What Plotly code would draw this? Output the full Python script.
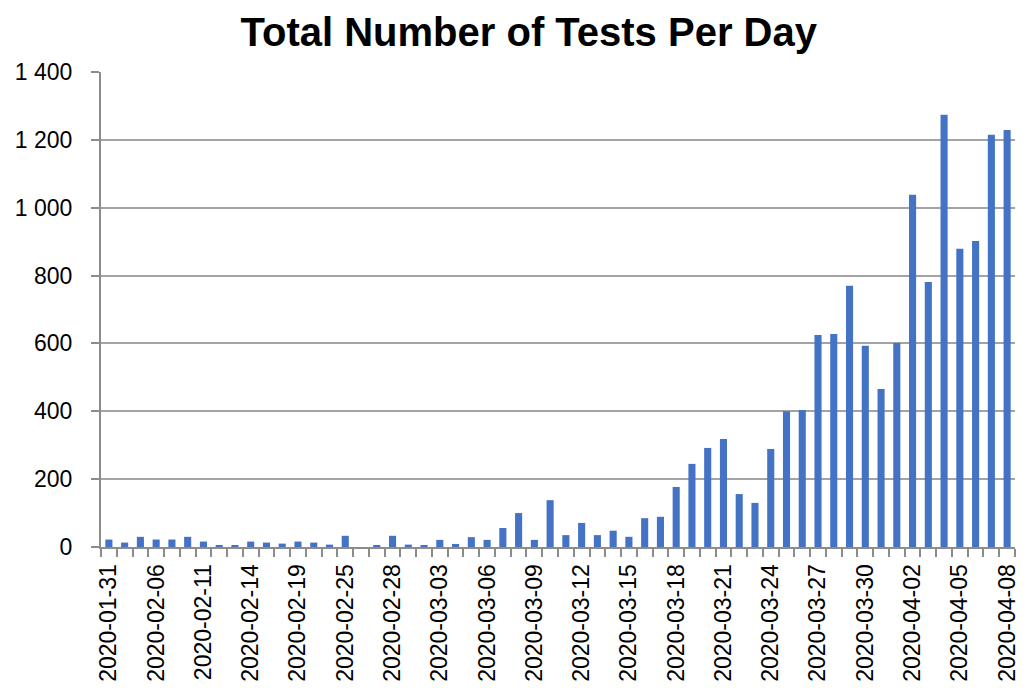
import plotly.graph_objects as go

# Dates shown on the category axis (early dates are not daily)
dates = [
    "2020-01-31", "2020-02-02", "2020-02-04", "2020-02-06", "2020-02-08", "2020-02-10",
    "2020-02-11", "2020-02-12", "2020-02-13", "2020-02-14", "2020-02-16", "2020-02-17",
    "2020-02-19", "2020-02-21", "2020-02-23", "2020-02-25", "2020-02-26", "2020-02-27",
    "2020-02-28", "2020-02-29", "2020-03-01", "2020-03-03", "2020-03-04", "2020-03-05",
    "2020-03-06", "2020-03-07", "2020-03-08", "2020-03-09", "2020-03-10", "2020-03-11",
    "2020-03-12", "2020-03-13", "2020-03-14", "2020-03-15", "2020-03-16", "2020-03-17",
    "2020-03-18", "2020-03-19", "2020-03-20", "2020-03-21", "2020-03-22", "2020-03-23",
    "2020-03-24", "2020-03-25", "2020-03-26", "2020-03-27", "2020-03-28", "2020-03-29",
    "2020-03-30", "2020-03-31", "2020-04-01", "2020-04-02", "2020-04-03", "2020-04-04",
    "2020-04-05", "2020-04-06", "2020-04-07", "2020-04-08",
]

tests = [
    22, 13, 30, 22, 22, 30, 16, 4, 4, 16, 13, 10,
    16, 13, 7, 33, 0, 4, 33, 7, 3, 21, 9, 29,
    21, 56, 100, 21, 138, 35, 71, 35, 48, 30, 85, 89,
    177, 245, 292, 318, 156, 130, 289, 400, 404, 625, 628, 770,
    593, 466, 601, 1038, 781, 1274, 879, 902, 1215, 1229,
]

# every third date gets a label, like the original
tick_text = [d if i % 3 == 0 else "" for i, d in enumerate(dates)]

font_family = "Liberation Sans, Arial, sans-serif"
grid_color = "#a3a3a3"
axis_color = "#8c8c8c"

fig = go.Figure()
fig.add_trace(go.Bar(
    x=dates,
    y=tests,
    marker=dict(color="#4472C4", line_width=0),
    name="Tests",
))

# the page body adds an 8px margin, so the figure is a bit smaller than the window
fig.update_layout(
    width=1022,
    height=680,
    paper_bgcolor="white",
    plot_bgcolor="white",
    showlegend=False,
    bargap=0.55,
    separators=", ",
    margin=dict(l=93, r=15, t=64, b=141, autoexpand=False),
    font=dict(family=font_family, size=23, color="black"),
    title=dict(
        text="<b>Total Number of Tests Per Day</b>",
        font=dict(family=font_family, size=40, color="black"),
        x=0.468,
        xanchor="center",
        xref="paper",
        y=0.965,
        yref="container",
        yanchor="middle",
    ),
    xaxis=dict(
        type="category",
        categoryorder="array",
        categoryarray=dates,
        tickmode="array",
        tickvals=dates,
        ticktext=tick_text,
        tickson="boundaries",
        ticks="outside",
        ticklen=8,
        tickwidth=2,
        tickcolor=axis_color,
        tickangle=-90,
        showline=True,
        linecolor=axis_color,
        linewidth=2,
        showgrid=False,
        automargin=False,
        ticklabelstandoff=6,
    ),
    yaxis=dict(
        range=[0, 1400],
        dtick=200,
        tickformat=",d",
        ticks="outside",
        ticklen=8,
        tickwidth=2,
        tickcolor=axis_color,
        showline=True,
        linecolor=axis_color,
        linewidth=2,
        showgrid=True,
        gridcolor=grid_color,
        gridwidth=1.5,
        zeroline=False,
        automargin=False,
        ticklabelstandoff=14,
    ),
)

fig.write_html("out.html")
